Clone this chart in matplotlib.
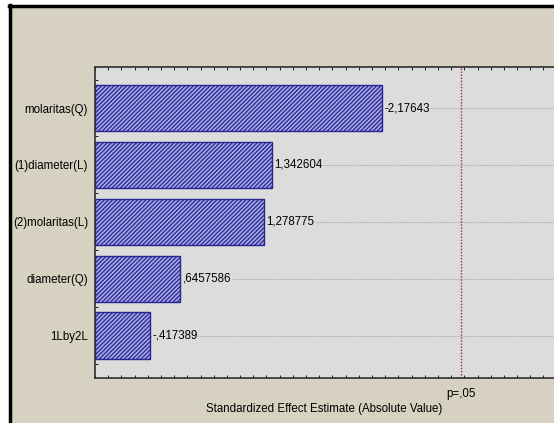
import matplotlib
matplotlib.use("Agg")
import matplotlib.pyplot as plt
from matplotlib.patches import Rectangle
from matplotlib.ticker import MultipleLocator

plt.rcParams["font.family"] = ["Liberation Sans", "DejaVu Sans"]
plt.rcParams["hatch.linewidth"] = 0.9

# effects, top to bottom
factors = ["molaritas(Q)", "(1)diameter(L)", "(2)molaritas(L)", "diameter(Q)", "1Lby2L"]
effects = [2.17643, 1.342604, 1.278775, 0.6457586, 0.417389]
value_labels = ["-2,17643", "1,342604", "1,278775", ",6457586", "-,417389"]
p_crit = 2.776

beige = "#d6d1c1"
panel = "#dcdcdc"
fs = 8.3

fig = plt.figure(figsize=(5.54, 4.23), dpi=100, facecolor="white")
# screenshot frame
fig.patches.append(Rectangle((10 / 554, 0), 1, (423 - 6) / 423, transform=fig.transFigure,
                             facecolor=beige, edgecolor="none", zorder=-2))
fig.add_artist(plt.Line2D([10 / 554, 10 / 554], [0, (423 - 5) / 423], color="black", lw=2.5,
                          transform=fig.transFigure))
fig.add_artist(plt.Line2D([9 / 554, 1], [(423 - 6) / 423, (423 - 6) / 423], color="black", lw=2.5,
                          transform=fig.transFigure))

ax = fig.add_axes([95 / 554, 45 / 423, 1 - 95 / 554, 311 / 423])
ax.set_facecolor(panel)

pos = list(range(len(factors)))
for y in pos:
    ax.axhline(y, color="#a8a8a8", lw=0.8, ls=(0, (1, 1)), zorder=0)

ax.barh(pos, effects, height=0.82, color="#a8a8e8", edgecolor="#262690",
        hatch="////////", lw=1.0, zorder=2)

for y, v, t in zip(pos, effects, value_labels):
    ax.text(v + 0.018, y, t, va="center", ha="left", fontsize=fs, zorder=3,
            bbox=dict(facecolor=panel, edgecolor="none", pad=0.3))

ax.axvline(p_crit, color="#a02828", lw=1.0, ls=(0, (1, 1.2)), zorder=1)

ax.set_xlim(0, 3.48)
ax.set_ylim(len(factors) - 1 + 0.74, -0.72)

ax.set_yticks(pos)
ax.set_yticklabels(factors, fontsize=fs)
ax.yaxis.set_minor_locator(MultipleLocator(0.5))
ax.tick_params(axis="y", which="major", direction="in", length=3, pad=5)
ax.tick_params(axis="y", which="minor", direction="in", length=2)

ax.set_xticks([p_crit])
ax.set_xticklabels(["p=,05"], fontsize=fs)
ax.xaxis.set_minor_locator(MultipleLocator(0.1))
ax.tick_params(axis="x", which="major", direction="in", length=0, pad=7, top=True)
ax.tick_params(axis="x", which="minor", direction="in", length=2.5, top=True)
ax.set_xlabel("Standardized Effect Estimate (Absolute Value)", fontsize=fs, labelpad=2)

for s in ["left", "bottom", "top"]:
    ax.spines[s].set_color("#303030")
    ax.spines[s].set_linewidth(1.2)
ax.spines["right"].set_visible(False)

fig.savefig("out.png", dpi=100, facecolor=fig.get_facecolor())
